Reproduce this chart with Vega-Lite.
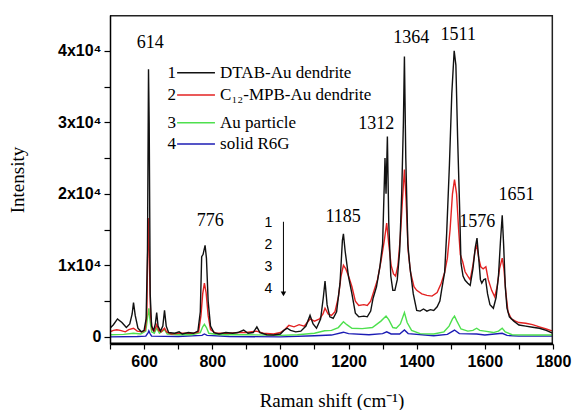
{
 "$schema": "https://vega.github.io/schema/vega-lite/v6.json",
 "width": 443,
 "height": 329,
 "autosize": {"type": "none"},
 "padding": {"left": 110, "top": 15, "right": 22, "bottom": 66},
 "background": "white",
 "config": {
  "view": {"stroke": null},
  "axis": {
   "grid": false,
   "domainColor": "#000000", "domainWidth": 1.5,
   "tickColor": "#000000", "tickWidth": 1.2,
   "labelFont": "Liberation Sans", "labelFontWeight": "bold", "labelFontSize": 16, "labelColor": "#000000",
   "labelFlush": false, "labelOverlap": false,
   "titleFont": "Liberation Serif", "titleFontWeight": "normal", "titleFontSize": 19, "titleColor": "#000000"
  }
 },
 "datasets": {
  "spectra": [
   {"sample":"solid R6G","shift":500,"intensity":0},{"sample":"solid R6G","shift":580,"intensity":50},{"sample":"solid R6G","shift":605,"intensity":100},{"sample":"solid R6G","shift":612,"intensity":600},{"sample":"solid R6G","shift":614,"intensity":840},{"sample":"solid R6G","shift":617,"intensity":500},{"sample":"solid R6G","shift":622,"intensity":100},{"sample":"solid R6G","shift":700,"intensity":50},{"sample":"solid R6G","shift":770,"intensity":200},{"sample":"solid R6G","shift":777,"intensity":400},{"sample":"solid R6G","shift":785,"intensity":200},{"sample":"solid R6G","shift":850,"intensity":50},{"sample":"solid R6G","shift":1000,"intensity":0},{"sample":"solid R6G","shift":1100,"intensity":150},{"sample":"solid R6G","shift":1150,"intensity":250},{"sample":"solid R6G","shift":1185,"intensity":650},{"sample":"solid R6G","shift":1200,"intensity":450},{"sample":"solid R6G","shift":1260,"intensity":300},{"sample":"solid R6G","shift":1300,"intensity":450},{"sample":"solid R6G","shift":1312,"intensity":700},{"sample":"solid R6G","shift":1325,"intensity":400},{"sample":"solid R6G","shift":1350,"intensity":400},{"sample":"solid R6G","shift":1364,"intensity":950},{"sample":"solid R6G","shift":1375,"intensity":450},{"sample":"solid R6G","shift":1450,"intensity":150},{"sample":"solid R6G","shift":1490,"intensity":350},{"sample":"solid R6G","shift":1511,"intensity":950},{"sample":"solid R6G","shift":1525,"intensity":450},{"sample":"solid R6G","shift":1576,"intensity":400},{"sample":"solid R6G","shift":1600,"intensity":250},{"sample":"solid R6G","shift":1651,"intensity":500},{"sample":"solid R6G","shift":1665,"intensity":200},{"sample":"solid R6G","shift":1700,"intensity":100},{"sample":"solid R6G","shift":1800,"intensity":100},

   {"sample":"Au particle","shift":500,"intensity":300},{"sample":"Au particle","shift":540,"intensity":350},{"sample":"Au particle","shift":569,"intensity":500},{"sample":"Au particle","shift":590,"intensity":400},{"sample":"Au particle","shift":605,"intensity":800},{"sample":"Au particle","shift":611,"intensity":3000},{"sample":"Au particle","shift":614,"intensity":4000},{"sample":"Au particle","shift":617,"intensity":2500},{"sample":"Au particle","shift":622,"intensity":700},{"sample":"Au particle","shift":630,"intensity":500},{"sample":"Au particle","shift":637,"intensity":1200},{"sample":"Au particle","shift":645,"intensity":500},{"sample":"Au particle","shift":660,"intensity":1000},{"sample":"Au particle","shift":668,"intensity":400},{"sample":"Au particle","shift":700,"intensity":300},{"sample":"Au particle","shift":740,"intensity":300},{"sample":"Au particle","shift":765,"intensity":600},{"sample":"Au particle","shift":772,"intensity":1400},{"sample":"Au particle","shift":777,"intensity":1750},{"sample":"Au particle","shift":783,"intensity":1300},{"sample":"Au particle","shift":790,"intensity":500},{"sample":"Au particle","shift":820,"intensity":300},{"sample":"Au particle","shift":900,"intensity":300},{"sample":"Au particle","shift":1000,"intensity":200},{"sample":"Au particle","shift":1050,"intensity":300},{"sample":"Au particle","shift":1100,"intensity":500},{"sample":"Au particle","shift":1130,"intensity":850},{"sample":"Au particle","shift":1150,"intensity":900},{"sample":"Au particle","shift":1170,"intensity":1300},{"sample":"Au particle","shift":1185,"intensity":2100},{"sample":"Au particle","shift":1195,"intensity":1700},{"sample":"Au particle","shift":1210,"intensity":1200},{"sample":"Au particle","shift":1240,"intensity":1150},{"sample":"Au particle","shift":1270,"intensity":1300},{"sample":"Au particle","shift":1295,"intensity":2200},{"sample":"Au particle","shift":1310,"intensity":2900},{"sample":"Au particle","shift":1318,"intensity":2400},{"sample":"Au particle","shift":1330,"intensity":1300},{"sample":"Au particle","shift":1340,"intensity":1200},{"sample":"Au particle","shift":1352,"intensity":1800},{"sample":"Au particle","shift":1364,"intensity":3400},{"sample":"Au particle","shift":1372,"intensity":2000},{"sample":"Au particle","shift":1385,"intensity":900},{"sample":"Au particle","shift":1410,"intensity":450},{"sample":"Au particle","shift":1450,"intensity":400},{"sample":"Au particle","shift":1480,"intensity":700},{"sample":"Au particle","shift":1495,"intensity":1500},{"sample":"Au particle","shift":1505,"intensity":2500},{"sample":"Au particle","shift":1511,"intensity":2900},{"sample":"Au particle","shift":1518,"intensity":2200},{"sample":"Au particle","shift":1530,"intensity":1100},{"sample":"Au particle","shift":1550,"intensity":800},{"sample":"Au particle","shift":1565,"intensity":900},{"sample":"Au particle","shift":1576,"intensity":1200},{"sample":"Au particle","shift":1585,"intensity":900},{"sample":"Au particle","shift":1600,"intensity":800},{"sample":"Au particle","shift":1625,"intensity":600},{"sample":"Au particle","shift":1640,"intensity":800},{"sample":"Au particle","shift":1651,"intensity":1200},{"sample":"Au particle","shift":1660,"intensity":700},{"sample":"Au particle","shift":1680,"intensity":300},{"sample":"Au particle","shift":1750,"intensity":250},{"sample":"Au particle","shift":1800,"intensity":250},

   {"sample":"C₁₂-MPB-Au dendrite","shift":500,"intensity":700},{"sample":"C₁₂-MPB-Au dendrite","shift":510,"intensity":900},{"sample":"C₁₂-MPB-Au dendrite","shift":520,"intensity":1000},{"sample":"C₁₂-MPB-Au dendrite","shift":530,"intensity":900},{"sample":"C₁₂-MPB-Au dendrite","shift":545,"intensity":700},{"sample":"C₁₂-MPB-Au dendrite","shift":555,"intensity":1000},{"sample":"C₁₂-MPB-Au dendrite","shift":569,"intensity":1200},{"sample":"C₁₂-MPB-Au dendrite","shift":580,"intensity":800},{"sample":"C₁₂-MPB-Au dendrite","shift":595,"intensity":700},{"sample":"C₁₂-MPB-Au dendrite","shift":603,"intensity":900},{"sample":"C₁₂-MPB-Au dendrite","shift":608,"intensity":3000},{"sample":"C₁₂-MPB-Au dendrite","shift":612,"intensity":16600},{"sample":"C₁₂-MPB-Au dendrite","shift":615,"intensity":12000},{"sample":"C₁₂-MPB-Au dendrite","shift":619,"intensity":3000},{"sample":"C₁₂-MPB-Au dendrite","shift":624,"intensity":1000},{"sample":"C₁₂-MPB-Au dendrite","shift":630,"intensity":800},{"sample":"C₁₂-MPB-Au dendrite","shift":637,"intensity":1700},{"sample":"C₁₂-MPB-Au dendrite","shift":643,"intensity":900},{"sample":"C₁₂-MPB-Au dendrite","shift":650,"intensity":700},{"sample":"C₁₂-MPB-Au dendrite","shift":660,"intensity":1200},{"sample":"C₁₂-MPB-Au dendrite","shift":666,"intensity":700},{"sample":"C₁₂-MPB-Au dendrite","shift":680,"intensity":400},{"sample":"C₁₂-MPB-Au dendrite","shift":700,"intensity":500},{"sample":"C₁₂-MPB-Au dendrite","shift":720,"intensity":500},{"sample":"C₁₂-MPB-Au dendrite","shift":745,"intensity":500},{"sample":"C₁₂-MPB-Au dendrite","shift":760,"intensity":700},{"sample":"C₁₂-MPB-Au dendrite","shift":767,"intensity":3000},{"sample":"C₁₂-MPB-Au dendrite","shift":772,"intensity":6000},{"sample":"C₁₂-MPB-Au dendrite","shift":777,"intensity":7500},{"sample":"C₁₂-MPB-Au dendrite","shift":782,"intensity":6200},{"sample":"C₁₂-MPB-Au dendrite","shift":788,"intensity":3000},{"sample":"C₁₂-MPB-Au dendrite","shift":795,"intensity":1000},{"sample":"C₁₂-MPB-Au dendrite","shift":810,"intensity":500},{"sample":"C₁₂-MPB-Au dendrite","shift":850,"intensity":500},{"sample":"C₁₂-MPB-Au dendrite","shift":880,"intensity":600},{"sample":"C₁₂-MPB-Au dendrite","shift":900,"intensity":600},{"sample":"C₁₂-MPB-Au dendrite","shift":930,"intensity":800},{"sample":"C₁₂-MPB-Au dendrite","shift":950,"intensity":500},{"sample":"C₁₂-MPB-Au dendrite","shift":980,"intensity":400},{"sample":"C₁₂-MPB-Au dendrite","shift":1000,"intensity":600},{"sample":"C₁₂-MPB-Au dendrite","shift":1010,"intensity":900},{"sample":"C₁₂-MPB-Au dendrite","shift":1025,"intensity":1600},{"sample":"C₁₂-MPB-Au dendrite","shift":1040,"intensity":1400},{"sample":"C₁₂-MPB-Au dendrite","shift":1055,"intensity":1700},{"sample":"C₁₂-MPB-Au dendrite","shift":1070,"intensity":1500},{"sample":"C₁₂-MPB-Au dendrite","shift":1087,"intensity":2500},{"sample":"C₁₂-MPB-Au dendrite","shift":1100,"intensity":2200},{"sample":"C₁₂-MPB-Au dendrite","shift":1115,"intensity":2500},{"sample":"C₁₂-MPB-Au dendrite","shift":1125,"intensity":3200},{"sample":"C₁₂-MPB-Au dendrite","shift":1131,"intensity":4000},{"sample":"C₁₂-MPB-Au dendrite","shift":1140,"intensity":3200},{"sample":"C₁₂-MPB-Au dendrite","shift":1150,"intensity":3000},{"sample":"C₁₂-MPB-Au dendrite","shift":1160,"intensity":3500},{"sample":"C₁₂-MPB-Au dendrite","shift":1170,"intensity":5500},{"sample":"C₁₂-MPB-Au dendrite","shift":1178,"intensity":8500},{"sample":"C₁₂-MPB-Au dendrite","shift":1185,"intensity":10000},{"sample":"C₁₂-MPB-Au dendrite","shift":1192,"intensity":9500},{"sample":"C₁₂-MPB-Au dendrite","shift":1200,"intensity":8500},{"sample":"C₁₂-MPB-Au dendrite","shift":1210,"intensity":7000},{"sample":"C₁₂-MPB-Au dendrite","shift":1220,"intensity":5000},{"sample":"C₁₂-MPB-Au dendrite","shift":1230,"intensity":4400},{"sample":"C₁₂-MPB-Au dendrite","shift":1245,"intensity":4500},{"sample":"C₁₂-MPB-Au dendrite","shift":1255,"intensity":4400},{"sample":"C₁₂-MPB-Au dendrite","shift":1265,"intensity":5000},{"sample":"C₁₂-MPB-Au dendrite","shift":1275,"intensity":6500},{"sample":"C₁₂-MPB-Au dendrite","shift":1285,"intensity":8000},{"sample":"C₁₂-MPB-Au dendrite","shift":1295,"intensity":10500},{"sample":"C₁₂-MPB-Au dendrite","shift":1305,"intensity":13500},{"sample":"C₁₂-MPB-Au dendrite","shift":1312,"intensity":15900},{"sample":"C₁₂-MPB-Au dendrite","shift":1318,"intensity":13000},{"sample":"C₁₂-MPB-Au dendrite","shift":1325,"intensity":10000},{"sample":"C₁₂-MPB-Au dendrite","shift":1332,"intensity":8800},{"sample":"C₁₂-MPB-Au dendrite","shift":1338,"intensity":8500},{"sample":"C₁₂-MPB-Au dendrite","shift":1345,"intensity":10000},{"sample":"C₁₂-MPB-Au dendrite","shift":1352,"intensity":14000},{"sample":"C₁₂-MPB-Au dendrite","shift":1358,"intensity":19000},{"sample":"C₁₂-MPB-Au dendrite","shift":1364,"intensity":23400},{"sample":"C₁₂-MPB-Au dendrite","shift":1369,"intensity":19000},{"sample":"C₁₂-MPB-Au dendrite","shift":1375,"intensity":12000},{"sample":"C₁₂-MPB-Au dendrite","shift":1382,"intensity":9000},{"sample":"C₁₂-MPB-Au dendrite","shift":1392,"intensity":7000},{"sample":"C₁₂-MPB-Au dendrite","shift":1400,"intensity":6500},{"sample":"C₁₂-MPB-Au dendrite","shift":1415,"intensity":6000},{"sample":"C₁₂-MPB-Au dendrite","shift":1430,"intensity":5800},{"sample":"C₁₂-MPB-Au dendrite","shift":1445,"intensity":5700},{"sample":"C₁₂-MPB-Au dendrite","shift":1460,"intensity":6200},{"sample":"C₁₂-MPB-Au dendrite","shift":1472,"intensity":7500},{"sample":"C₁₂-MPB-Au dendrite","shift":1482,"intensity":9000},{"sample":"C₁₂-MPB-Au dendrite","shift":1490,"intensity":11000},{"sample":"C₁₂-MPB-Au dendrite","shift":1498,"intensity":15000},{"sample":"C₁₂-MPB-Au dendrite","shift":1505,"intensity":20000},{"sample":"C₁₂-MPB-Au dendrite","shift":1511,"intensity":22000},{"sample":"C₁₂-MPB-Au dendrite","shift":1517,"intensity":20000},{"sample":"C₁₂-MPB-Au dendrite","shift":1523,"intensity":15000},{"sample":"C₁₂-MPB-Au dendrite","shift":1528,"intensity":11500},{"sample":"C₁₂-MPB-Au dendrite","shift":1535,"intensity":10500},{"sample":"C₁₂-MPB-Au dendrite","shift":1542,"intensity":9100},{"sample":"C₁₂-MPB-Au dendrite","shift":1550,"intensity":8500},{"sample":"C₁₂-MPB-Au dendrite","shift":1557,"intensity":8000},{"sample":"C₁₂-MPB-Au dendrite","shift":1565,"intensity":10000},{"sample":"C₁₂-MPB-Au dendrite","shift":1571,"intensity":12000},{"sample":"C₁₂-MPB-Au dendrite","shift":1576,"intensity":12900},{"sample":"C₁₂-MPB-Au dendrite","shift":1582,"intensity":11000},{"sample":"C₁₂-MPB-Au dendrite","shift":1588,"intensity":9800},{"sample":"C₁₂-MPB-Au dendrite","shift":1595,"intensity":9500},{"sample":"C₁₂-MPB-Au dendrite","shift":1603,"intensity":9800},{"sample":"C₁₂-MPB-Au dendrite","shift":1610,"intensity":8000},{"sample":"C₁₂-MPB-Au dendrite","shift":1620,"intensity":6500},{"sample":"C₁₂-MPB-Au dendrite","shift":1629,"intensity":5600},{"sample":"C₁₂-MPB-Au dendrite","shift":1636,"intensity":7000},{"sample":"C₁₂-MPB-Au dendrite","shift":1643,"intensity":9500},{"sample":"C₁₂-MPB-Au dendrite","shift":1651,"intensity":11000},{"sample":"C₁₂-MPB-Au dendrite","shift":1656,"intensity":9500},{"sample":"C₁₂-MPB-Au dendrite","shift":1662,"intensity":6000},{"sample":"C₁₂-MPB-Au dendrite","shift":1668,"intensity":3500},{"sample":"C₁₂-MPB-Au dendrite","shift":1678,"intensity":2500},{"sample":"C₁₂-MPB-Au dendrite","shift":1690,"intensity":2200},{"sample":"C₁₂-MPB-Au dendrite","shift":1700,"intensity":2000},{"sample":"C₁₂-MPB-Au dendrite","shift":1720,"intensity":1900},{"sample":"C₁₂-MPB-Au dendrite","shift":1740,"intensity":1700},{"sample":"C₁₂-MPB-Au dendrite","shift":1760,"intensity":1400},{"sample":"C₁₂-MPB-Au dendrite","shift":1780,"intensity":1100},{"sample":"C₁₂-MPB-Au dendrite","shift":1800,"intensity":800},

   {"sample":"DTAB-Au dendrite","shift":500,"intensity":1200},{"sample":"DTAB-Au dendrite","shift":510,"intensity":1700},{"sample":"DTAB-Au dendrite","shift":522,"intensity":2500},{"sample":"DTAB-Au dendrite","shift":535,"intensity":2000},{"sample":"DTAB-Au dendrite","shift":548,"intensity":1300},{"sample":"DTAB-Au dendrite","shift":558,"intensity":1800},{"sample":"DTAB-Au dendrite","shift":565,"intensity":3200},{"sample":"DTAB-Au dendrite","shift":569,"intensity":4800},{"sample":"DTAB-Au dendrite","shift":574,"intensity":3000},{"sample":"DTAB-Au dendrite","shift":582,"intensity":1200},{"sample":"DTAB-Au dendrite","shift":592,"intensity":700},{"sample":"DTAB-Au dendrite","shift":600,"intensity":900},{"sample":"DTAB-Au dendrite","shift":606,"intensity":2500},{"sample":"DTAB-Au dendrite","shift":610,"intensity":12000},{"sample":"DTAB-Au dendrite","shift":613,"intensity":37400},{"sample":"DTAB-Au dendrite","shift":615,"intensity":30000},{"sample":"DTAB-Au dendrite","shift":618,"intensity":6000},{"sample":"DTAB-Au dendrite","shift":622,"intensity":1500},{"sample":"DTAB-Au dendrite","shift":628,"intensity":900},{"sample":"DTAB-Au dendrite","shift":633,"intensity":1800},{"sample":"DTAB-Au dendrite","shift":637,"intensity":3400},{"sample":"DTAB-Au dendrite","shift":641,"intensity":1500},{"sample":"DTAB-Au dendrite","shift":648,"intensity":800},{"sample":"DTAB-Au dendrite","shift":655,"intensity":1500},{"sample":"DTAB-Au dendrite","shift":660,"intensity":3700},{"sample":"DTAB-Au dendrite","shift":665,"intensity":1500},{"sample":"DTAB-Au dendrite","shift":672,"intensity":600},{"sample":"DTAB-Au dendrite","shift":690,"intensity":500},{"sample":"DTAB-Au dendrite","shift":703,"intensity":700},{"sample":"DTAB-Au dendrite","shift":712,"intensity":400},{"sample":"DTAB-Au dendrite","shift":730,"intensity":600},{"sample":"DTAB-Au dendrite","shift":745,"intensity":500},{"sample":"DTAB-Au dendrite","shift":758,"intensity":800},{"sample":"DTAB-Au dendrite","shift":765,"intensity":3500},{"sample":"DTAB-Au dendrite","shift":769,"intensity":11200},{"sample":"DTAB-Au dendrite","shift":773,"intensity":11500},{"sample":"DTAB-Au dendrite","shift":779,"intensity":12800},{"sample":"DTAB-Au dendrite","shift":783,"intensity":11000},{"sample":"DTAB-Au dendrite","shift":788,"intensity":5000},{"sample":"DTAB-Au dendrite","shift":795,"intensity":1500},{"sample":"DTAB-Au dendrite","shift":805,"intensity":600},{"sample":"DTAB-Au dendrite","shift":820,"intensity":400},{"sample":"DTAB-Au dendrite","shift":840,"intensity":600},{"sample":"DTAB-Au dendrite","shift":860,"intensity":500},{"sample":"DTAB-Au dendrite","shift":875,"intensity":600},{"sample":"DTAB-Au dendrite","shift":892,"intensity":950},{"sample":"DTAB-Au dendrite","shift":905,"intensity":500},{"sample":"DTAB-Au dendrite","shift":920,"intensity":600},{"sample":"DTAB-Au dendrite","shift":931,"intensity":1400},{"sample":"DTAB-Au dendrite","shift":940,"intensity":600},{"sample":"DTAB-Au dendrite","shift":960,"intensity":300},{"sample":"DTAB-Au dendrite","shift":980,"intensity":250},{"sample":"DTAB-Au dendrite","shift":1000,"intensity":400},{"sample":"DTAB-Au dendrite","shift":1010,"intensity":900},{"sample":"DTAB-Au dendrite","shift":1020,"intensity":1200},{"sample":"DTAB-Au dendrite","shift":1030,"intensity":900},{"sample":"DTAB-Au dendrite","shift":1045,"intensity":700},{"sample":"DTAB-Au dendrite","shift":1060,"intensity":800},{"sample":"DTAB-Au dendrite","shift":1075,"intensity":1500},{"sample":"DTAB-Au dendrite","shift":1087,"intensity":3000},{"sample":"DTAB-Au dendrite","shift":1096,"intensity":1800},{"sample":"DTAB-Au dendrite","shift":1106,"intensity":1200},{"sample":"DTAB-Au dendrite","shift":1118,"intensity":2500},{"sample":"DTAB-Au dendrite","shift":1126,"intensity":5500},{"sample":"DTAB-Au dendrite","shift":1131,"intensity":7800},{"sample":"DTAB-Au dendrite","shift":1137,"intensity":4500},{"sample":"DTAB-Au dendrite","shift":1145,"intensity":2800},{"sample":"DTAB-Au dendrite","shift":1155,"intensity":2600},{"sample":"DTAB-Au dendrite","shift":1165,"intensity":3500},{"sample":"DTAB-Au dendrite","shift":1175,"intensity":7500},{"sample":"DTAB-Au dendrite","shift":1182,"intensity":13500},{"sample":"DTAB-Au dendrite","shift":1185,"intensity":14400},{"sample":"DTAB-Au dendrite","shift":1190,"intensity":12000},{"sample":"DTAB-Au dendrite","shift":1200,"intensity":8400},{"sample":"DTAB-Au dendrite","shift":1210,"intensity":6000},{"sample":"DTAB-Au dendrite","shift":1220,"intensity":3300},{"sample":"DTAB-Au dendrite","shift":1230,"intensity":2800},{"sample":"DTAB-Au dendrite","shift":1245,"intensity":2900},{"sample":"DTAB-Au dendrite","shift":1255,"intensity":2800},{"sample":"DTAB-Au dendrite","shift":1265,"intensity":3600},{"sample":"DTAB-Au dendrite","shift":1272,"intensity":5400},{"sample":"DTAB-Au dendrite","shift":1282,"intensity":7000},{"sample":"DTAB-Au dendrite","shift":1292,"intensity":9800},{"sample":"DTAB-Au dendrite","shift":1300,"intensity":13000},{"sample":"DTAB-Au dendrite","shift":1307,"intensity":25000},{"sample":"DTAB-Au dendrite","shift":1310,"intensity":20000},{"sample":"DTAB-Au dendrite","shift":1314,"intensity":28000},{"sample":"DTAB-Au dendrite","shift":1318,"intensity":16000},{"sample":"DTAB-Au dendrite","shift":1324,"intensity":8500},{"sample":"DTAB-Au dendrite","shift":1330,"intensity":6500},{"sample":"DTAB-Au dendrite","shift":1336,"intensity":6500},{"sample":"DTAB-Au dendrite","shift":1343,"intensity":8000},{"sample":"DTAB-Au dendrite","shift":1350,"intensity":12000},{"sample":"DTAB-Au dendrite","shift":1356,"intensity":20000},{"sample":"DTAB-Au dendrite","shift":1361,"intensity":30000},{"sample":"DTAB-Au dendrite","shift":1364,"intensity":39200},{"sample":"DTAB-Au dendrite","shift":1368,"intensity":25000},{"sample":"DTAB-Au dendrite","shift":1374,"intensity":13000},{"sample":"DTAB-Au dendrite","shift":1380,"intensity":9800},{"sample":"DTAB-Au dendrite","shift":1390,"intensity":6000},{"sample":"DTAB-Au dendrite","shift":1400,"intensity":3700},{"sample":"DTAB-Au dendrite","shift":1410,"intensity":3600},{"sample":"DTAB-Au dendrite","shift":1420,"intensity":3900},{"sample":"DTAB-Au dendrite","shift":1430,"intensity":3600},{"sample":"DTAB-Au dendrite","shift":1440,"intensity":3800},{"sample":"DTAB-Au dendrite","shift":1450,"intensity":3700},{"sample":"DTAB-Au dendrite","shift":1460,"intensity":4200},{"sample":"DTAB-Au dendrite","shift":1468,"intensity":5000},{"sample":"DTAB-Au dendrite","shift":1473,"intensity":6500},{"sample":"DTAB-Au dendrite","shift":1482,"intensity":9000},{"sample":"DTAB-Au dendrite","shift":1488,"intensity":14500},{"sample":"DTAB-Au dendrite","shift":1496,"intensity":24000},{"sample":"DTAB-Au dendrite","shift":1503,"intensity":34000},{"sample":"DTAB-Au dendrite","shift":1510,"intensity":40000},{"sample":"DTAB-Au dendrite","shift":1515,"intensity":38000},{"sample":"DTAB-Au dendrite","shift":1520,"intensity":28000},{"sample":"DTAB-Au dendrite","shift":1526,"intensity":18000},{"sample":"DTAB-Au dendrite","shift":1530,"intensity":10300},{"sample":"DTAB-Au dendrite","shift":1536,"intensity":8500},{"sample":"DTAB-Au dendrite","shift":1542,"intensity":7900},{"sample":"DTAB-Au dendrite","shift":1550,"intensity":7500},{"sample":"DTAB-Au dendrite","shift":1557,"intensity":7200},{"sample":"DTAB-Au dendrite","shift":1565,"intensity":9500},{"sample":"DTAB-Au dendrite","shift":1572,"intensity":12500},{"sample":"DTAB-Au dendrite","shift":1577,"intensity":13800},{"sample":"DTAB-Au dendrite","shift":1582,"intensity":11000},{"sample":"DTAB-Au dendrite","shift":1587,"intensity":8000},{"sample":"DTAB-Au dendrite","shift":1591,"intensity":7500},{"sample":"DTAB-Au dendrite","shift":1597,"intensity":8000},{"sample":"DTAB-Au dendrite","shift":1602,"intensity":8100},{"sample":"DTAB-Au dendrite","shift":1608,"intensity":6000},{"sample":"DTAB-Au dendrite","shift":1615,"intensity":4500},{"sample":"DTAB-Au dendrite","shift":1625,"intensity":4000},{"sample":"DTAB-Au dendrite","shift":1633,"intensity":5500},{"sample":"DTAB-Au dendrite","shift":1640,"intensity":8500},{"sample":"DTAB-Au dendrite","shift":1646,"intensity":13500},{"sample":"DTAB-Au dendrite","shift":1651,"intensity":17000},{"sample":"DTAB-Au dendrite","shift":1655,"intensity":13000},{"sample":"DTAB-Au dendrite","shift":1660,"intensity":7000},{"sample":"DTAB-Au dendrite","shift":1665,"intensity":4000},{"sample":"DTAB-Au dendrite","shift":1672,"intensity":2800},{"sample":"DTAB-Au dendrite","shift":1685,"intensity":2200},{"sample":"DTAB-Au dendrite","shift":1700,"intensity":1650},{"sample":"DTAB-Au dendrite","shift":1720,"intensity":1500},{"sample":"DTAB-Au dendrite","shift":1740,"intensity":1350},{"sample":"DTAB-Au dendrite","shift":1760,"intensity":1200},{"sample":"DTAB-Au dendrite","shift":1780,"intensity":900},{"sample":"DTAB-Au dendrite","shift":1800,"intensity":500}
  ],
  "peaks": [
   {"label":"614","shift":618,"intensity":41090},
   {"label":"776","shift":794,"intensity":16230},
   {"label":"1185","shift":1184,"intensity":16740},
   {"label":"1312","shift":1281,"intensity":29750},
   {"label":"1364","shift":1384,"intensity":41750},
   {"label":"1511","shift":1522,"intensity":42200},
   {"label":"1576","shift":1578,"intensity":16090},
   {"label":"1651","shift":1693,"intensity":19820}
  ],
  "single": [{}]
 },
 "layer": [
  {
   "data": {"name": "spectra"},
   "mark": {"type": "line", "strokeWidth": 1.4, "clip": true},
   "encoding": {
    "x": {"field": "shift", "type": "quantitative", "title": "Raman shift (cm⁻¹)",
     "scale": {"domain": [500, 1800], "nice": false, "zero": false},
     "axis": {"orient": "bottom", "tickCount": 13, "format": "d", "tickSize": 5, "zindex": 1,
      "labelExpr": "datum.value % 200 === 0 ? datum.label : ''",
      "labelPadding": 4, "titlePadding": 22}},
    "y": {"field": "intensity", "type": "quantitative", "title": "Intensity",
     "scale": {"domain": [-1000, 45000], "nice": false, "zero": false},
     "axis": {"values": [0,5000,10000,15000,20000,25000,30000,35000,40000], "zindex": 1,
      "labelExpr": "datum.value === 0 ? '0' : (datum.value % 10000 === 0 ? (datum.value / 10000) + 'x10⁴' : '')",
      "tickSize": 6,
      "labelPadding": 3, "titlePadding": 30}},
    "color": {"field": "sample", "type": "nominal",
     "scale": {"domain": ["DTAB-Au dendrite", "C₁₂-MPB-Au dendrite", "Au particle", "solid R6G"],
      "range": ["#111111", "#e32222", "#4ee04e", "#1c1cb4"]},
     "legend": null}
   }
  },
  {
   "data": {"name": "single"},
   "mark": {"type": "rule", "color": "#222222", "strokeWidth": 1.5, "clip": false},
   "encoding": {"x": {"datum": 500, "type": "quantitative"}, "x2": {"datum": 1800}, "y": {"datum": 44900, "type": "quantitative"}}
  },
  {
   "data": {"name": "single"},
   "mark": {"type": "rule", "color": "#222222", "strokeWidth": 1.5, "clip": false},
   "encoding": {"x": {"datum": 1798, "type": "quantitative"}, "y": {"datum": -1000, "type": "quantitative"}, "y2": {"datum": 45000}}
  },
  {
   "data": {"name": "single"},
   "mark": {"type": "rule", "color": "#000000", "strokeWidth": 1.5, "clip": false},
   "encoding": {"x": {"datum": 500, "type": "quantitative"}, "x2": {"datum": 1800}, "y": {"datum": -900, "type": "quantitative"}}
  },
  {
   "data": {"name": "peaks"},
   "mark": {"type": "text", "font": "Liberation Serif", "fontSize": 18, "align": "center", "baseline": "middle", "color": "#000000"},
   "encoding": {
    "x": {"field": "shift", "type": "quantitative"},
    "y": {"field": "intensity", "type": "quantitative"},
    "text": {"field": "label"}
   }
  },
  {
   "data": {"name": "single"},
   "mark": {"type": "rule", "color": "#000000", "strokeWidth": 1},
   "encoding": {
    "x": {"datum": 1009, "type": "quantitative"},
    "y": {"datum": 16090, "type": "quantitative"},
    "y2": {"datum": 6250}
   }
  },
  {
   "data": {"name": "single"},
   "mark": {"type": "point", "shape": "triangle-down", "filled": true, "color": "#000000", "size": 30, "opacity": 1},
   "encoding": {
    "x": {"datum": 1009, "type": "quantitative"},
    "y": {"datum": 6000, "type": "quantitative"}
   }
  },
  {
   "data": {"name": "single"},
   "mark": {"type": "text", "font": "Liberation Sans", "fontSize": 14, "align": "center", "baseline": "top", "lineBreak": "\n", "lineHeight": 22.2, "color": "#000000"},
   "encoding": {
    "x": {"datum": 965, "type": "quantitative"},
    "y": {"datum": 16960, "type": "quantitative"},
    "text": {"value": "1\n2\n3\n4"}
   }
  },
  {
   "data": {"name": "single"},
   "mark": {"type": "rule", "color": "#111111", "strokeWidth": 1.5},
   "encoding": {"x": {"datum": 697, "type": "quantitative"}, "x2": {"datum": 808}, "y": {"datum": 36930, "type": "quantitative"}}
  },
  {
   "data": {"name": "single"},
   "mark": {"type": "rule", "color": "#e32222", "strokeWidth": 1.5},
   "encoding": {"x": {"datum": 697, "type": "quantitative"}, "x2": {"datum": 808}, "y": {"datum": 33810, "type": "quantitative"}}
  },
  {
   "data": {"name": "single"},
   "mark": {"type": "rule", "color": "#4ee04e", "strokeWidth": 1.5},
   "encoding": {"x": {"datum": 697, "type": "quantitative"}, "x2": {"datum": 808}, "y": {"datum": 29940, "type": "quantitative"}}
  },
  {
   "data": {"name": "single"},
   "mark": {"type": "rule", "color": "#1c1cb4", "strokeWidth": 1.5},
   "encoding": {"x": {"datum": 697, "type": "quantitative"}, "x2": {"datum": 808}, "y": {"datum": 26960, "type": "quantitative"}}
  },
  {
   "data": {"name": "single"},
   "mark": {"type": "text", "font": "Liberation Serif", "fontSize": 17, "align": "right", "baseline": "middle", "color": "#000000"},
   "encoding": {"x": {"datum": 694, "type": "quantitative"}, "y": {"datum": 36930, "type": "quantitative"}, "text": {"value": "1"}}
  },
  {
   "data": {"name": "single"},
   "mark": {"type": "text", "font": "Liberation Serif", "fontSize": 17, "align": "right", "baseline": "middle", "color": "#000000"},
   "encoding": {"x": {"datum": 694, "type": "quantitative"}, "y": {"datum": 33810, "type": "quantitative"}, "text": {"value": "2"}}
  },
  {
   "data": {"name": "single"},
   "mark": {"type": "text", "font": "Liberation Serif", "fontSize": 17, "align": "right", "baseline": "middle", "color": "#000000"},
   "encoding": {"x": {"datum": 694, "type": "quantitative"}, "y": {"datum": 29940, "type": "quantitative"}, "text": {"value": "3"}}
  },
  {
   "data": {"name": "single"},
   "mark": {"type": "text", "font": "Liberation Serif", "fontSize": 17, "align": "right", "baseline": "middle", "color": "#000000"},
   "encoding": {"x": {"datum": 694, "type": "quantitative"}, "y": {"datum": 26960, "type": "quantitative"}, "text": {"value": "4"}}
  },
  {
   "data": {"name": "single"},
   "mark": {"type": "text", "font": "Liberation Serif", "fontSize": 17, "align": "left", "baseline": "middle", "color": "#000000"},
   "encoding": {"x": {"datum": 823, "type": "quantitative"}, "y": {"datum": 36930, "type": "quantitative"}, "text": {"value": "DTAB-Au dendrite"}}
  },
  {
   "data": {"name": "single"},
   "mark": {"type": "text", "font": "Liberation Serif", "fontSize": 17, "align": "left", "baseline": "middle", "color": "#000000"},
   "encoding": {"x": {"datum": 823, "type": "quantitative"}, "y": {"datum": 33810, "type": "quantitative"}, "text": {"value": "C₁₂-MPB-Au dendrite"}}
  },
  {
   "data": {"name": "single"},
   "mark": {"type": "text", "font": "Liberation Serif", "fontSize": 17, "align": "left", "baseline": "middle", "color": "#000000"},
   "encoding": {"x": {"datum": 823, "type": "quantitative"}, "y": {"datum": 29940, "type": "quantitative"}, "text": {"value": "Au particle"}}
  },
  {
   "data": {"name": "single"},
   "mark": {"type": "text", "font": "Liberation Serif", "fontSize": 17, "align": "left", "baseline": "middle", "color": "#000000"},
   "encoding": {"x": {"datum": 823, "type": "quantitative"}, "y": {"datum": 26960, "type": "quantitative"}, "text": {"value": "solid R6G"}}
  }
 ]
}
